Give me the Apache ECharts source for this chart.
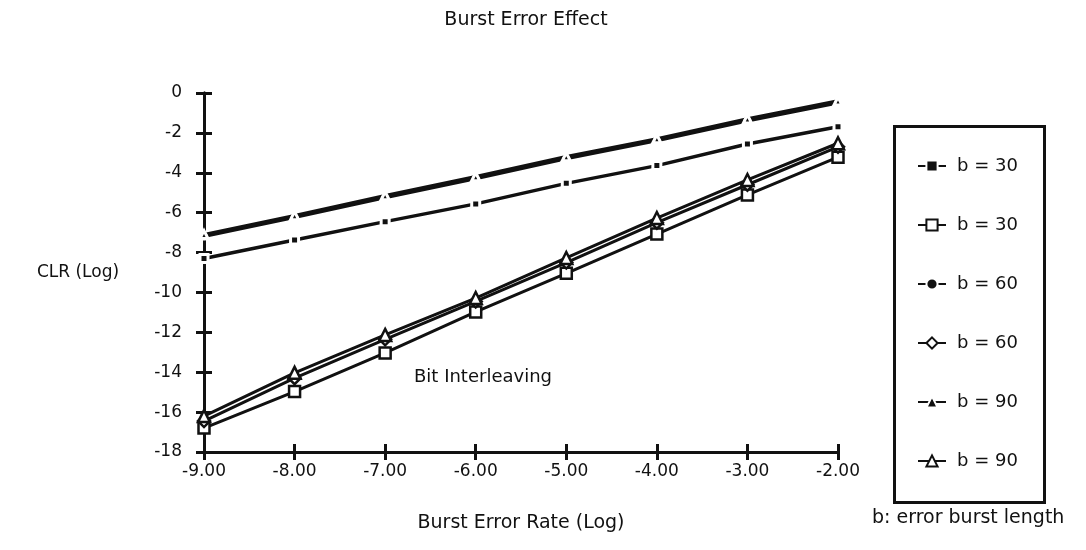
<!DOCTYPE html>
<html>
<head>
<meta charset="utf-8">
<script src="https://cdn.jsdelivr.net/npm/echarts@6/dist/echarts.min.js"></script>
<style>
html,body{margin:0;padding:0;background:#fff;}
#chart{width:1086px;height:550px;}
</style>
</head>
<body>
<div id="chart"></div>
<script>
// ---- data ----
const burstErrorRate = [-9, -8, -7, -6, -5, -4, -3, -2];
const b30Plain  = [-8.30, -7.37, -6.45, -5.56, -4.53, -3.64, -2.56, -1.69];
const b30Inter  = [-16.80, -14.97, -13.03, -10.98, -9.04, -7.07, -5.11, -3.22];
const b60Plain  = [-7.20, -6.25, -5.25, -4.30, -3.30, -2.40, -1.40, -0.50];
const b60Inter  = [-16.45, -14.30, -12.35, -10.45, -8.50, -6.50, -4.60, -2.70];
const b90Plain  = [-7.10, -6.15, -5.15, -4.20, -3.20, -2.30, -1.30, -0.40];
const b90Inter  = [-16.20, -14.03, -12.13, -10.28, -8.27, -6.27, -4.36, -2.52];
const legendNames = ['b = 30', 'b = 30 ', 'b = 60', 'b = 60 ', 'b = 90', 'b = 90 '];
const yTicks = { min: -18, max: 0, step: 2 };
const xTicks = { min: -9, max: -2, step: 1 };

const FONT = 'DejaVu Sans';
const INK = '#111';
const pair = arr => burstErrorRate.map((x, i) => [x, arr[i]]);

const chart = echarts.init(document.getElementById('chart'));

function plainSeries(name, data, symbol, size, width, z) {
  return {
    name, type: 'line', data: pair(data), symbol, symbolSize: size, z,
    lineStyle: { color: INK, width: width, type: 'solid' },
    itemStyle: { color: INK, borderColor: '#fff', borderWidth: 3 },
    emphasis: { disabled: true }, animation: false
  };
}
function interSeries(name, data, symbol, size, z) {
  return {
    name, type: 'line', data: pair(data), symbol, symbolSize: size, z,
    lineStyle: { color: INK, width: 3 },
    itemStyle: { color: '#fff', borderColor: INK, borderWidth: 2.5 },
    emphasis: { disabled: true }, animation: false
  };
}

const baseX = {
  type: 'value', min: xTicks.min, max: xTicks.max, interval: xTicks.step,
  splitLine: { show: false }
};
const baseY = {
  type: 'value', min: yTicks.min, max: yTicks.max, interval: yTicks.step,
  splitLine: { show: false }
};

chart.setOption({
  backgroundColor: '#fff',
  animation: false,
  title: {
    text: 'Burst Error Effect', left: 521, top: 6, textAlign: 'center',
    textStyle: { fontFamily: FONT, fontSize: 19, fontWeight: 'normal', color: INK }
  },
  grid: { left: 204, right: 248, top: 93, bottom: 98 },
  xAxis: [
    Object.assign({}, baseX, {
      name: 'Burst Error Rate (Log)', nameLocation: 'middle', nameGap: 62,
      nameMoveOverlap: false,
      nameTextStyle: { fontFamily: FONT, fontSize: 19, color: INK },
      axisLine: { onZero: false, lineStyle: { color: INK, width: 3 } },
      axisTick: { show: true, length: 8, lineStyle: { color: INK, width: 3 } },
      axisLabel: { fontFamily: FONT, fontSize: 17, color: INK, margin: 11,
                   formatter: v => v.toFixed(2) }
    }),
    Object.assign({}, baseX, {
      position: 'bottom',
      axisLine: { onZero: false, lineStyle: { color: INK, width: 3 } },
      axisTick: { show: true, inside: true, length: 8, lineStyle: { color: INK, width: 3 } },
      axisLabel: { show: false }
    })
  ],
  yAxis: [
    Object.assign({}, baseY, {
      name: 'CLR (Log)', nameLocation: 'middle', nameGap: 126, nameRotate: 0,
      nameMoveOverlap: false,
      nameTextStyle: { fontFamily: FONT, fontSize: 17, color: INK, align: 'center' },
      axisLine: { onZero: false, lineStyle: { color: INK, width: 3 } },
      axisTick: { show: true, length: 8, lineStyle: { color: INK, width: 3 } },
      axisLabel: { fontFamily: FONT, fontSize: 17, color: INK, margin: 22 }
    }),
    Object.assign({}, baseY, {
      position: 'left',
      axisLine: { onZero: false, lineStyle: { color: INK, width: 3 } },
      axisTick: { show: true, inside: true, length: 8, lineStyle: { color: INK, width: 3 } },
      axisLabel: { show: false }
    })
  ],
  legend: {
    orient: 'vertical', left: 912, top: 152,
    itemWidth: 28, itemHeight: 14, itemGap: 41,
    data: legendNames,
    textStyle: { fontFamily: FONT, fontSize: 18, color: INK, padding: [0, 0, 0, 6] },
    selectedMode: false
  },
  graphic: [
    { type: 'rect', left: 892, top: 124, z: 0,
      shape: { width: 150, height: 376 },
      style: { fill: 'none', stroke: INK, lineWidth: 3 } },
    { type: 'text', left: 414, top: 368,
      style: { text: 'Bit Interleaving', font: '18px "DejaVu Sans"', fill: INK } },
    { type: 'text', left: 872, top: 509,
      style: { text: 'b: error burst length', font: '19px "DejaVu Sans"', fill: INK } }
  ],
  series: [
    plainSeries(legendNames[0], b30Plain, 'rect', 8, 3.5, 3),
    interSeries(legendNames[1], b30Inter, 'rect', 11, 4),
    plainSeries(legendNames[2], b60Plain, 'circle', 5, 3, 3),
    interSeries(legendNames[3], b60Inter, 'diamond', 12, 5),
    plainSeries(legendNames[4], b90Plain, 'triangle', 8, 3.5, 3),
    interSeries(legendNames[5], b90Inter, 'triangle', 12, 6)
  ]
});
</script>
</body>
</html>
